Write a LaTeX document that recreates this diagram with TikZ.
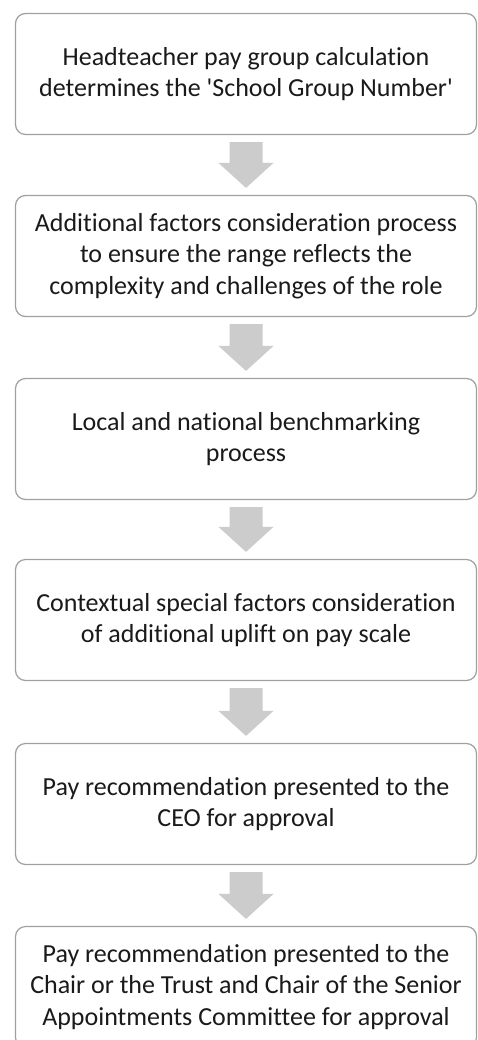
\documentclass[tikz,border=0pt]{standalone}
\usepackage{fontspec}
\newfontfamily\bodyfont[Ligatures=NoCommon]{Carlito}
\usetikzlibrary{calc}
\definecolor{boxline}{HTML}{A0A0A0}
\definecolor{arrowgray}{HTML}{CCCCCC}
\definecolor{txt}{HTML}{1A1A1A}
\tikzset{
  stepbox/.style={draw=boxline, line width=0.9pt, rounded corners=7.5pt, fill=white,
    minimum width=461*0.75pt, minimum height=121*0.75pt, inner sep=0pt,
    align=center, text=txt, font=\bodyfont\fontsize{19.5pt}{23.6pt}\selectfont},
  blockarrow/.style={fill=arrowgray, draw=none}
}
\newcommand{\blockarr}[2]{%
  \fill[blockarrow] ($(#1.south)+(-16.5,-7)$) -- ($(#1.south)+(16.5,-7)$)
    -- ($(#2.north)+(16.5,32)$) -- ($(#2.north)+(27.5,32)$)
    -- ($(#2.north)+(0,7)$) -- ($(#2.north)+(-27.5,32)$)
    -- ($(#2.north)+(-16.5,32)$) -- cycle;}
\begin{document}
\begin{tikzpicture}[x=0.75pt,y=0.75pt]
\useasboundingbox (0,0) rectangle (478,-1040);
\clip (0,0) rectangle (478,-1040);
\fill[white] (0,0) rectangle (478,-1040);
\node[stepbox] (b1) at (246,-74) {Headteacher pay group calculation\\determines the 'School Group Number'};
\node[stepbox] (b2) at (246,-256) {Additional factors consideration process\\to ensure the range reflects the\\complexity and challenges of the role};
\node[stepbox] (b3) at (246,-439) {Local and national benchmarking\\process};
\node[stepbox] (b4) at (246,-620) {Contextual special factors consideration\\of additional uplift on pay scale};
\node[stepbox] (b5) at (246,-804) {Pay recommendation presented to the\\CEO for approval};
\node[stepbox] (b6) at (246,-987) {Pay recommendation presented to the\\Chair or the Trust and Chair of the Senior\\Appointments Committee for approval};
\blockarr{b1}{b2}
\blockarr{b2}{b3}
\blockarr{b3}{b4}
\blockarr{b4}{b5}
\blockarr{b5}{b6}
\end{tikzpicture}
\end{document}
